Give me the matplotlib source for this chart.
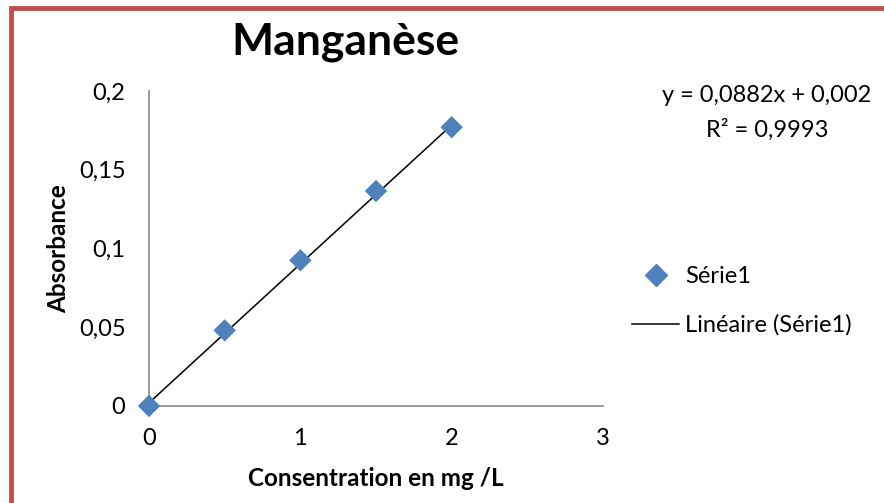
import matplotlib.pyplot as plt
from matplotlib.lines import Line2D
from matplotlib.patches import Rectangle

plt.rcParams['font.family'] = ['Lato', 'DejaVu Sans']

# Calibration data
concentration = [0, 0.5, 1, 1.5, 2]
absorbance = [0, 0.048, 0.0925, 0.1365, 0.177]
slope = 0.0882
intercept = 0.002
r2 = 0.9993

x_ticks = [0, 1, 2, 3]
y_ticks = [0, 0.05, 0.1, 0.15, 0.2]
y_tick_labels = ['0', '0,05', '0,1', '0,15', '0,2']

fig = plt.figure(figsize=(8.84, 5.03), dpi=100)
ax = fig.add_axes([149 / 884, 1 - 406 / 503, (603 - 149) / 884, (406 - 91) / 503])

# Trend line over the data range
fit_x = [concentration[0], concentration[-1]]
fit_y = [slope * v + intercept for v in fit_x]
ax.plot(fit_x, fit_y, color='black', lw=1.1, zorder=2)
ax.scatter(concentration, absorbance, marker='D', s=130, color='#4F81BD',
           edgecolors='none', zorder=3, clip_on=False)

ax.set_xlim(0, 3)
ax.set_ylim(0, 0.2)
ax.set_xticks(x_ticks)
ax.set_xticklabels([str(t) for t in x_ticks])
ax.set_yticks(y_ticks)
ax.set_yticklabels(y_tick_labels)
ax.tick_params(length=0, labelsize=17)
ax.tick_params(axis='x', pad=16)
ax.tick_params(axis='y', pad=17)
for side in ['top', 'right']:
    ax.spines[side].set_visible(False)
for side in ['left', 'bottom']:
    ax.spines[side].set_color('#878787')
    ax.spines[side].set_linewidth(1.2)

ax.set_xlabel('Consentration en mg /L', fontsize=17.5, fontweight='bold', labelpad=13)
ax.set_ylabel('Absorbance', fontsize=17.5, fontweight='bold', labelpad=6)

fig.text(345 / 884, 1 - 42 / 503, 'Manganèse', fontsize=32, fontweight='bold',
         ha='center', va='center')

fig.text(767 / 884, 1 - 96 / 503, 'y = 0,0882x + 0,002', fontsize=17,
         ha='center', va='center')
fig.text(767 / 884, 1 - 130 / 503, 'R² = 0,9993', fontsize=17,
         ha='center', va='center')

# Legend
handles = [
    Line2D([], [], marker='D', color='#4F81BD', ls='none', markersize=11),
    Line2D([], [], color='black', lw=1.1),
]
fig.legend(handles, ['Série1', 'Linéaire (Série1)'], loc='center left',
           bbox_to_anchor=(632 / 884, 1 - 301 / 503), frameon=False,
           borderpad=0, borderaxespad=0,
           fontsize=17, handlelength=2.0, handletextpad=0.25, labelspacing=1.15)

# Red chart border
fig.patches.append(Rectangle((10.5 / 884, -0.05), 1.2, 1 - 7.5 / 503 + 0.05,
                             transform=fig.transFigure, fill=False,
                             edgecolor='#C0504D', lw=3.5))

fig.savefig('out.png', dpi=100)
